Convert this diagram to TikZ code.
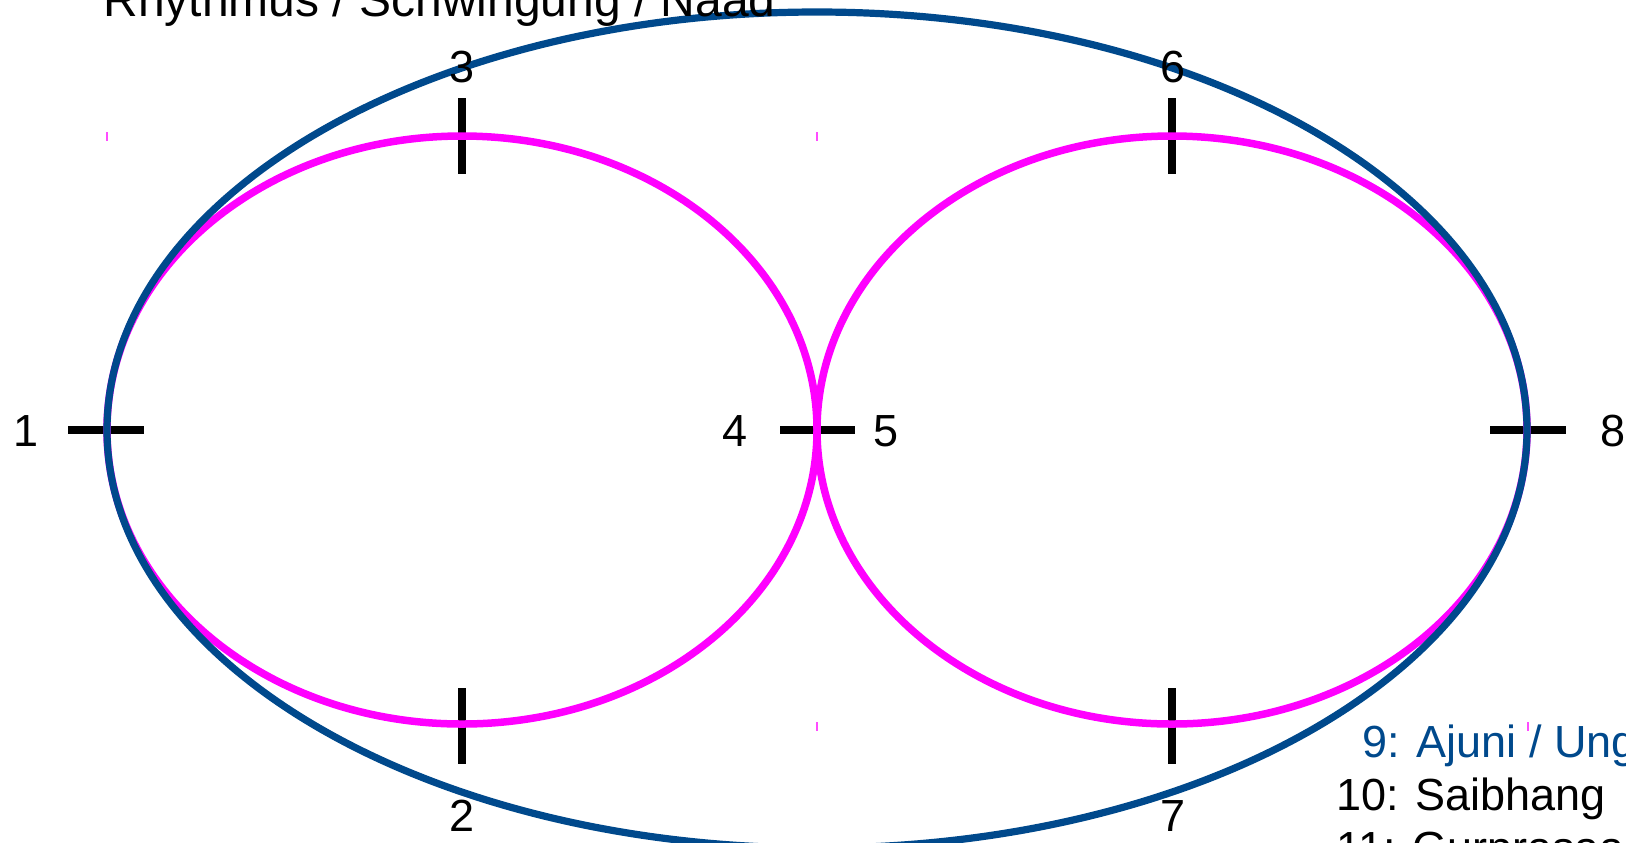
\documentclass[tikz,border=0pt]{standalone}
\usepackage{fontspec}
\setmainfont{Liberation Sans}
\definecolor{ringblue}{RGB}{0,73,140}
\definecolor{loopmag}{RGB}{255,0,255}
\begin{document}
\begin{tikzpicture}[x=0.5pt,y=-0.5pt,
  tickmark/.style={line width=4pt,black},
  loopline/.style={line width=3.75pt,loopmag},
  ringline/.style={line width=3.6pt,ringblue},
  pinkmark/.style={line width=1pt,loopmag!70},
  numlabel/.style={inner sep=0pt,font=\fontsize{22.5pt}{27pt}\selectfont},
  legend/.style={inner sep=0pt,anchor=base west,font=\fontsize{22.5pt}{27pt}\selectfont}]
\useasboundingbox (0,0) rectangle (1626,842);
\begin{scope}
\clip (0,0) rectangle (1626,842);
% tick marks
\coordinate (t3a) at (462,98);  \coordinate (t3b) at (462,174);
\coordinate (t6a) at (1172,98); \coordinate (t6b) at (1172,174);
\coordinate (t2a) at (462,688); \coordinate (t2b) at (462,764);
\coordinate (t7a) at (1172,688); \coordinate (t7b) at (1172,764);
\coordinate (t1a) at (68,430);  \coordinate (t1b) at (144,430);
\coordinate (t4a) at (780,430); \coordinate (t4b) at (855,430);
\coordinate (t8a) at (1490,430); \coordinate (t8b) at (1566,430);
\draw[tickmark] (t3a) -- (t3b);
\draw[tickmark] (t6a) -- (t6b);
\draw[tickmark] (t2a) -- (t2b);
\draw[tickmark] (t7a) -- (t7b);
\draw[tickmark] (t1a) -- (t1b);
\draw[tickmark] (t4a) -- (t4b);
\draw[tickmark] (t8a) -- (t8b);
% small pink marks
\coordinate (p1a) at (107,132); \coordinate (p1b) at (107,141);
\coordinate (p2a) at (817,132); \coordinate (p2b) at (817,141);
\coordinate (p3a) at (817,722); \coordinate (p3b) at (817,731);
\coordinate (p4a) at (1528,722); \coordinate (p4b) at (1528,731);
\draw[pinkmark] (p1a) -- (p1b);
\draw[pinkmark] (p2a) -- (p2b);
\draw[pinkmark] (p3a) -- (p3b);
\draw[pinkmark] (p4a) -- (p4b);
% pink loops
\coordinate (lc) at (462,430);
\coordinate (rc) at (1172,430);
\draw[loopline] (lc) ellipse [x radius=355, y radius=294];
\draw[loopline] (rc) ellipse [x radius=355, y radius=294];
% blue ring
\coordinate (bc) at (817,430);
\draw[ringline] (bc) ellipse [x radius=710, y radius=418];
% labels
\node[numlabel] (n1) at (26,431) {1};
\node[numlabel] (n2) at (462,816) {2};
\node[numlabel] (n3) at (462,67) {3};
\node[numlabel] (n4) at (735,431) {4};
\node[numlabel] (n5) at (886,431) {5};
\node[numlabel] (n6) at (1173,67) {6};
\node[numlabel] (n7) at (1173,816) {7};
\node[numlabel] (n8) at (1613,431) {8};
\node[legend,font=\fontsize{24pt}{28pt}\selectfont] (title) at (103,16) {Rhythmus / Schwingung / Naad};
\node[legend,text=ringblue] (l9) at (1362,757) {9: Ajuni / Ungeboren};
\node[legend] (l10) at (1336,810) {10: Saibhang};
\node[legend] (l11) at (1336,863) {11: Gurprasaad};
\end{scope}
\end{tikzpicture}
\end{document}
